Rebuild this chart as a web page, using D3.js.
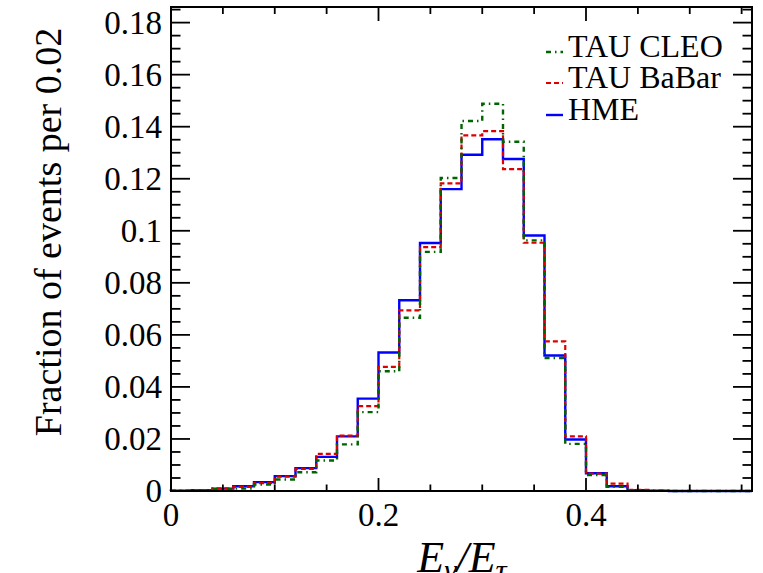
<!DOCTYPE html>
<html>
<head>
<meta charset="utf-8">
<script src="https://cdn.jsdelivr.net/npm/d3@7"></script>
<style>
  html, body { margin: 0; padding: 0; background: #fff; }
  svg { display: block; }
  text { font-family: "Liberation Serif", "Times New Roman", serif; fill: #000; }
</style>
</head>
<body>
<svg id="chart" width="763" height="573"></svg>
<script>
// ---- data ----
const binLow = [0.00, 0.02, 0.04, 0.06, 0.08, 0.10, 0.12, 0.14, 0.16, 0.18,
                0.20, 0.22, 0.24, 0.26, 0.28, 0.30, 0.32, 0.34, 0.36, 0.38,
                0.40, 0.42, 0.44, 0.46, 0.48, 0.50, 0.52, 0.54];
const binWidth = 0.02;
const hme   = [0.0001, 0.0003, 0.0009, 0.0018, 0.0034, 0.0057, 0.0088, 0.0131, 0.0210, 0.0355,
               0.0532, 0.0733, 0.0953, 0.1160, 0.1292, 0.1352, 0.1276, 0.0982, 0.0521, 0.0198,
               0.0068, 0.0018, 0.0003, 0.0001, 0, 0, 0, 0];
const babar = [0.0001, 0.0003, 0.0010, 0.0016, 0.0030, 0.0055, 0.0085, 0.0143, 0.0213, 0.0326,
               0.0477, 0.0694, 0.0937, 0.1182, 0.1367, 0.1383, 0.1237, 0.0954, 0.0575, 0.0210,
               0.0067, 0.0028, 0.0004, 0.0001, 0, 0, 0, 0];
const cleo  = [0.0001, 0.0002, 0.0007, 0.0009, 0.0025, 0.0044, 0.0072, 0.0117, 0.0179, 0.0303,
               0.0460, 0.0666, 0.0919, 0.1203, 0.1422, 0.1488, 0.1342, 0.0963, 0.0511, 0.0181,
               0.0061, 0.0016, 0.0003, 0.0001, 0, 0, 0, 0];
const xMajorTicks = [0, 0.2, 0.4];
const xTickLabels = ["0", "0.2", "0.4"];
const yMajorTicks = [0, 0.02, 0.04, 0.06, 0.08, 0.10, 0.12, 0.14, 0.16, 0.18];
const yTickLabels = ["0", "0.02", "0.04", "0.06", "0.08", "0.1", "0.12", "0.14", "0.16", "0.18"];
const legendLabels = ["TAU CLEO", "TAU BaBar", "HME"];
const yTitle = "Fraction of events per 0.02";

// ---- layout ----
const L = 171, R = 752, T = 7, B = 491;
const svg = d3.select("#chart");
const x = d3.scaleLinear().domain([0, 0.56]).range([L, R]);
const y = d3.scaleLinear().domain([0, 0.186]).range([B, T]);

// histograms
function stepPath(vals) {
  const p = d3.path();
  p.moveTo(x(binLow[0]), y(0));
  vals.forEach((v, i) => {
    p.lineTo(x(binLow[i]), y(v));
    p.lineTo(x(binLow[i] + binWidth), y(v));
  });
  p.lineTo(x(binLow[binLow.length - 1] + binWidth), y(0));
  return p.toString();
}
const series = [
  { name: "HME",   vals: hme,   color: "#0000ff", width: 2.4, dash: null },
  { name: "BaBar", vals: babar, color: "#dd0000", width: 2.2, dash: "5,3" },
  { name: "CLEO",  vals: cleo,  color: "#006400", width: 2.4, dash: "5,4,1.5,4" }
];
series.forEach(s => {
  svg.append("path").attr("d", stepPath(s.vals))
    .attr("fill", "none").attr("stroke", s.color)
    .attr("stroke-width", s.width)
    .attr("stroke-dasharray", s.dash);
});

// frame
svg.append("rect").attr("x", L).attr("y", T).attr("width", R - L).attr("height", B - T)
  .attr("fill", "none").attr("stroke", "#000").attr("stroke-width", 2);

// ticks
const ticksG = svg.append("g").attr("stroke", "#000").attr("stroke-width", 1.8);
const xMinor = d3.range(0, 0.5601, 0.05);
xMinor.forEach(v => {
  const major = xMajorTicks.some(m => Math.abs(m - v) < 1e-6);
  const lb = major ? 13 : 6.5, lt = major ? 14 : 7;
  ticksG.append("line").attr("x1", x(v)).attr("x2", x(v)).attr("y1", B).attr("y2", B - lb);
  ticksG.append("line").attr("x1", x(v)).attr("x2", x(v)).attr("y1", T).attr("y2", T + lt);
});
const yMinor = d3.range(0, 0.1861, 0.005);
yMinor.forEach(v => {
  const major = yMajorTicks.some(m => Math.abs(m - v) < 1e-6);
  const l = major ? 19 : 9.5;
  ticksG.append("line").attr("y1", y(v)).attr("y2", y(v)).attr("x1", L).attr("x2", L + l);
  ticksG.append("line").attr("y1", y(v)).attr("y2", y(v)).attr("x1", R).attr("x2", R - l);
});

// tick labels
xMajorTicks.forEach((v, i) => {
  svg.append("text").attr("x", x(v)).attr("y", 526).attr("text-anchor", "middle")
    .attr("font-size", 33).text(xTickLabels[i]);
});
yMajorTicks.forEach((v, i) => {
  svg.append("text").attr("x", 162).attr("y", y(v) + 11).attr("text-anchor", "end")
    .attr("font-size", 33).text(yTickLabels[i]);
});

// axis titles
svg.append("text").attr("transform", "translate(61,232) rotate(-90)")
  .attr("text-anchor", "middle").attr("font-size", 38).text(yTitle);
const xt = svg.append("text").attr("x", 462).attr("y", 572).attr("text-anchor", "middle")
  .attr("font-size", 44).attr("font-style", "italic");
xt.append("tspan").text("E");
xt.append("tspan").attr("font-size", 31).attr("dy", 9).text("γ");
xt.append("tspan").attr("dy", -9).text("/E");
xt.append("tspan").attr("font-size", 31).attr("dy", 9).text("τ");

// legend
const legY = [57, 88, 120];
const legSeries = [series[2], series[1], series[0]];
legSeries.forEach((s, i) => {
  svg.append("line").attr("x1", 546).attr("x2", 563)
    .attr("y1", legY[i] - 5).attr("y2", legY[i] - 5)
    .attr("stroke", s.color).attr("stroke-width", s.width)
    .attr("stroke-dasharray", s.dash);
  svg.append("text").attr("x", 568).attr("y", legY[i]).attr("font-size", 32)
    .text(legendLabels[i]);
});
</script>
</body>
</html>
